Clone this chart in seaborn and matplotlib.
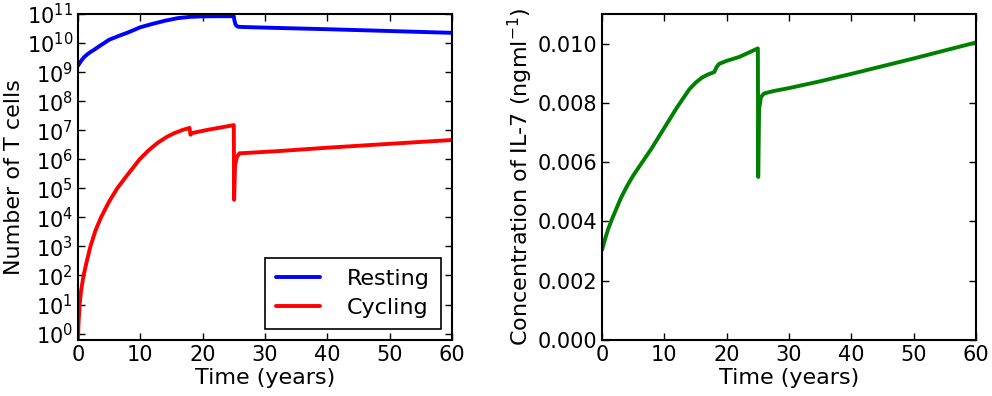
import matplotlib
matplotlib.use("Agg")
from matplotlib import pyplot as plt
from matplotlib.ticker import NullLocator
import seaborn as sns
import pandas as pd

# resting T cells
t_resting = [0, 0.3, 0.6, 1, 1.5, 2, 2.5, 3.5, 5, 6.5, 8, 10, 12, 14, 16, 18, 20, 22, 25,
             25.1, 25.3, 25.6, 26, 30, 40, 50, 60]
resting = [1.65e9, 2.1e9, 2.6e9, 3.3e9, 4.1e9, 4.9e9, 5.7e9, 8.0e9, 1.3e10, 1.75e10, 2.3e10,
           3.5e10, 4.6e10, 5.9e10, 7.2e10, 8.0e10, 8.3e10, 8.4e10, 8.4e10,
           6.0e10, 4.2e10, 3.7e10, 3.6e10, 3.4e10, 3.0e10, 2.6e10, 2.25e10]

# cycling T cells
t_cycling = [0, 0.1, 0.27, 0.5, 0.9, 1.4, 2, 2.8, 3.7, 5, 6.3, 7.7, 9.9, 11.3, 12.8, 14.2, 15.5,
             16.8, 17.9, 18.05, 18.3, 21, 23, 25, 25.05, 25.2, 25.5, 25.9, 32, 40, 50, 60]
cycling = [0.7, 2.5, 10, 30, 100, 300, 1000, 3500, 1e4, 3.5e4, 1e5, 2.5e5, 1e6, 2e6, 3.7e6,
           5.8e6, 8e6, 1.02e7, 1.2e7, 7e6, 8e6, 1.05e7, 1.25e7, 1.5e7, 4e4, 6e5, 1.2e6, 1.6e6,
           1.9e6, 2.5e6, 3.4e6, 4.6e6]

# IL-7 concentration
t_il7 = [0, 0.5, 1, 1.5, 2, 3, 4, 5, 6, 8, 10, 12, 14, 15, 16, 17, 18, 18.4, 18.8, 20, 22, 25,
         25.05, 25.2, 25.5, 26, 27.5, 30, 35, 40, 45, 50, 55, 60]
il7 = [0.00304, 0.00342, 0.00375, 0.00403, 0.00428, 0.00478, 0.00519, 0.00555, 0.00586,
       0.00648, 0.00716, 0.00784, 0.00846, 0.00868, 0.00885, 0.00896, 0.00904, 0.00922,
       0.00932, 0.00942, 0.00955, 0.00984, 0.0055, 0.0078, 0.0082, 0.00832, 0.0084, 0.0085,
       0.00873, 0.00898, 0.00924, 0.00950, 0.00977, 0.01004]

sns.set_style("ticks")
plt.rcParams["font.family"] = ["DejaVu Sans"]
plt.rcParams["mathtext.fontset"] = "dejavusans"
plt.rcParams["text.color"] = "black"
plt.rcParams["axes.labelcolor"] = "black"
plt.rcParams["xtick.direction"] = "in"
plt.rcParams["ytick.direction"] = "in"
plt.rcParams["xtick.major.size"] = 5
plt.rcParams["ytick.major.size"] = 5
plt.rcParams["axes.linewidth"] = 1.5
plt.rcParams["axes.edgecolor"] = "black"

fs = 15
fig = plt.figure(figsize=(9.92, 3.96), dpi=100)
ax1 = fig.add_axes([0.0786, 0.1414, 0.377, 0.8232])
ax2 = fig.add_axes([0.6069, 0.1414, 0.377, 0.8232])

df_r = pd.DataFrame({"t": t_resting, "n": resting})
df_c = pd.DataFrame({"t": t_cycling, "n": cycling})
df_i = pd.DataFrame({"t": t_il7, "c": il7})

sns.lineplot(df_r, x="t", y="n", ax=ax1, color="blue", lw=2.8, label="Resting",
             estimator=None, sort=False)
sns.lineplot(df_c, x="t", y="n", ax=ax1, color="red", lw=2.8, label="Cycling",
             estimator=None, sort=False)
ax1.set_yscale("log")
ax1.set_xlim(0, 60)
ax1.set_ylim(0.6, 1e11)
ax1.set_yticks([10.0 ** k for k in range(12)])
ax1.yaxis.set_minor_locator(NullLocator())
ax1.set_xlabel("Time (years)", fontsize=fs + 1, labelpad=2)
ax1.set_ylabel("Number of T cells", fontsize=fs + 1, labelpad=2)
leg = ax1.legend(loc="lower right", fontsize=fs + 1, fancybox=False, edgecolor="black",
                 framealpha=1, handlelength=2.0, borderpad=0.5, labelspacing=0.4,
                 handletextpad=1.2)
leg.get_frame().set_linewidth(1.2)

sns.lineplot(df_i, x="t", y="c", ax=ax2, color="green", lw=2.8, estimator=None, sort=False)
ax2.set_xlim(0, 60)
ax2.set_ylim(0, 0.011)
ax2.set_yticks([0, 0.002, 0.004, 0.006, 0.008, 0.010])
ax2.set_yticklabels(["0.000", "0.002", "0.004", "0.006", "0.008", "0.010"])
ax2.set_xlabel("Time (years)", fontsize=fs + 1, labelpad=2)
ax2.set_ylabel("Concentration of IL-7 (ngml$^{-1}$)", fontsize=fs + 1, labelpad=2)

for ax in (ax1, ax2):
    ax.tick_params(labelsize=fs, top=True, right=True, width=1, colors="black")
    ax.set_xticks([0, 10, 20, 30, 40, 50, 60])
    for s in ax.spines.values():
        s.set_visible(True)

fig.savefig("out.png", dpi=100)
